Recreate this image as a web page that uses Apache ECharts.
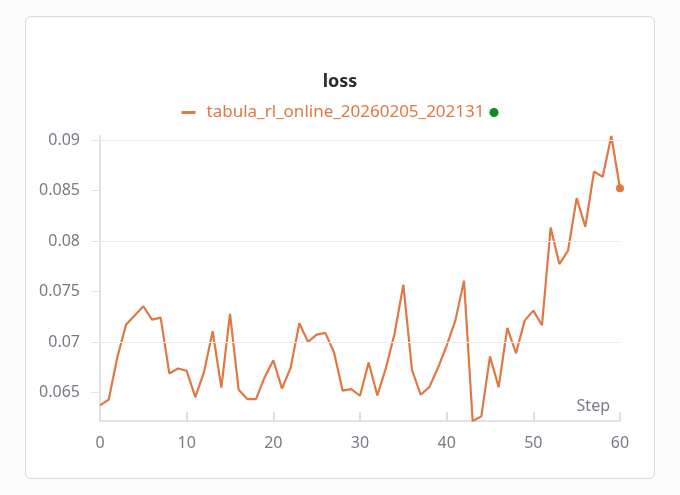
<!DOCTYPE html>
<html>
<head>
<meta charset="utf-8">
<script src="https://cdn.jsdelivr.net/npm/echarts@6/dist/echarts.min.js"></script>
<style>
    html, body { margin: 0; padding: 0; background: #fcfcfc; }
    #card {
        position: absolute; left: 25px; top: 16px; width: 628px; height: 461px;
        border: 1.5px solid #dadada; border-radius: 6px; background: #fff;
    }
    #chart { position: absolute; left: 0; top: 0; width: 680px; height: 495px; }
</style>
</head>
<body>
<div id="card"></div>
<div id="chart"></div>
<script>
'use strict';
var runName = 'tabula_rl_online_20260205_202131';
var steps = [];
for (var s = 0; s <= 60; s++) steps.push(s);
var lossValues = [
    0.06375, 0.06431, 0.06852, 0.07172, 0.07264, 0.07356, 0.07224, 0.07244, 0.06691, 0.0674,
    0.06717, 0.06457, 0.06704, 0.07109, 0.0655, 0.0728, 0.0653, 0.06437, 0.06437, 0.06654,
    0.06822, 0.0654, 0.06747, 0.07188, 0.07004, 0.07076, 0.07093, 0.06901, 0.0652, 0.06536,
    0.0647, 0.06799, 0.06473, 0.06747, 0.07089, 0.0757, 0.06727, 0.0648, 0.06555, 0.06747,
    0.06967, 0.07214, 0.0761, 0.0622, 0.06266, 0.06859, 0.06555, 0.07142, 0.06891, 0.07214,
    0.07313, 0.07168, 0.08136, 0.07774, 0.07906, 0.08427, 0.08143, 0.0869, 0.08637, 0.09042,
    0.08525
];
var yTicks = [0.065, 0.07, 0.075, 0.08, 0.085, 0.09];

var lineColor = '#e07843';
var fontFamily = '"Noto Sans", sans-serif';
var lastIndex = lossValues.length - 1;

var seriesData = steps.map(function(step, i) {
    return [step, lossValues[i]];
});

var chart = echarts.init(document.getElementById('chart'));
chart.setOption({
    animation: false,
    title: {
        text: 'loss',
        left: 'center',
        top: 68,
        textStyle: { fontFamily: fontFamily, fontSize: 18, fontWeight: 'bold', color: '#2b2b2b' }
    },
    legend: {
        top: 99,
        left: 'center',
        icon: 'rect',
        itemWidth: 14,
        itemHeight: 3,
        formatter: function(name) {
            return '{n|' + name + '}{d|}';
        },
        textStyle: {
            fontFamily: fontFamily,
            rich: {
                n: { fontFamily: fontFamily, fontSize: 17, color: lineColor, padding: [0, 5, 0, 6] },
                d: { width: 9, height: 9, borderRadius: 5, backgroundColor: '#128a1e' }
            }
        },
        data: [runName]
    },
    grid: {
        left: 100,
        right: 60,
        top: 136,
        bottom: 74
    },
    xAxis: {
        type: 'value',
        min: 0,
        max: 60,
        interval: 10,
        name: 'Step',
        nameLocation: 'end',
        nameGap: 0,
        nameTextStyle: {
            fontFamily: fontFamily, fontSize: 16, color: '#7a7a84',
            align: 'right', verticalAlign: 'bottom', padding: [0, 10, 7, 0]
        },
        axisLine: { lineStyle: { color: '#e2e2e8', width: 2 } },
        axisTick: { inside: true, length: 9, lineStyle: { color: '#dedee4', width: 2 } },
        axisLabel: { margin: 14, fontFamily: fontFamily, fontSize: 16, color: '#7a7a84' },
        splitLine: { show: false }
    },
    yAxis: {
        type: 'value',
        min: lossValues[43],
        max: lossValues[59],
        interval: 0.005,
        axisLine: { show: true, lineStyle: { color: '#e2e2e8', width: 2 } },
        axisTick: {
            show: true, length: 9,
            lineStyle: { color: '#e2e2e8', width: 1 },
            customValues: yTicks
        },
        axisLabel: {
            margin: 20,
            fontFamily: fontFamily,
            fontSize: 16,
            color: '#7a7a84',
            customValues: yTicks
        },
        splitLine: { show: false }
    },
    series: [{
        name: runName,
        type: 'line',
        data: seriesData,
        showSymbol: true,
        showAllSymbol: true,
        symbol: 'circle',
        symbolSize: function(val, params) {
            return params.dataIndex === lastIndex ? 8 : 0;
        },
        lineStyle: { color: lineColor, width: 2.2 },
        itemStyle: { color: lineColor },
        markLine: {
            silent: true,
            symbol: 'none',
            label: { show: false },
            lineStyle: { color: '#ececf0', width: 1, type: 'solid' },
            data: yTicks.map(function(v) { return { yAxis: v }; })
        },
        z: 3
    }]
});
</script>
</body>
</html>
